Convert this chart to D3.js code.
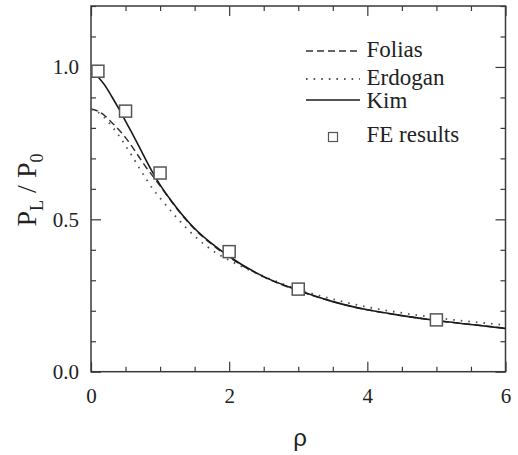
<!DOCTYPE html>
<html>
<head>
<meta charset="utf-8">
<script src="https://cdn.jsdelivr.net/npm/d3@7"></script>
</head>
<body style="margin:0;background:#fff">
<svg id="chart" width="518" height="455" style="display:block"></svg>
<script>
// Data (rho vs P_L / P_0)
const rhoGrid = [0, 0.1, 0.2, 0.3, 0.4, 0.5, 0.6, 0.7, 0.8, 0.9, 1.0, 1.25, 1.5, 1.75, 2.0, 2.5, 3.0, 3.5, 4.0, 4.5, 5.0, 5.5, 6.0];
const foliasValues = [0.862, 0.855, 0.84, 0.818, 0.795, 0.768, 0.737, 0.703, 0.67, 0.64, 0.61, 0.533, 0.468, 0.418, 0.376, 0.311, 0.266, 0.23, 0.203, 0.184, 0.168, 0.155, 0.143];
const erdoganValues = [0.86, 0.852, 0.833, 0.806, 0.776, 0.742, 0.706, 0.668, 0.632, 0.598, 0.57, 0.503, 0.445, 0.399, 0.366, 0.313, 0.27, 0.238, 0.212, 0.193, 0.177, 0.164, 0.153];
const kimRho = [0.1, 0.2, 0.3, 0.4, 0.5, 0.6, 0.7, 0.8, 0.9, 1.0, 1.25, 1.5, 1.75, 2.0, 2.5, 3.0, 3.5, 4.0, 4.5, 5.0, 5.5, 6.0];
const kimValues = [0.968, 0.94, 0.903, 0.864, 0.822, 0.78, 0.737, 0.693, 0.651, 0.613, 0.535, 0.47, 0.42, 0.378, 0.312, 0.267, 0.23, 0.203, 0.184, 0.168, 0.155, 0.142];
const feRho = [0.1, 0.5, 1.0, 2.0, 3.0, 5.0];
const feValues = [0.986, 0.855, 0.652, 0.394, 0.271, 0.170];
const legendNames = ['Folias', 'Erdogan', 'Kim', 'FE results'];
const xTickLabels = [0, 2, 4, 6];
const yTickLabels = [0.0, 0.5, 1.0];

const SERIF = 'Liberation Serif';
const SANS = 'Liberation Sans';

const cfg = {
  width: 518,
  height: 455,
  margin: { top: 6, right: 12.5, bottom: 83.3, left: 91 },
};
const w = cfg.width - cfg.margin.left - cfg.margin.right;
const h = cfg.height - cfg.margin.top - cfg.margin.bottom;

const svg = d3.select('#chart');

const g = svg.append('g')
  .attr('transform', `translate(${cfg.margin.left},${cfg.margin.top})`);

const x = d3.scaleLinear().domain([0, 6]).range([0, w]);
const y = d3.scaleLinear().domain([0, 1.2]).range([h, 0]);

const axisColor = '#3a3a3a';
const minorX = d3.range(0, 6.01, 0.5).filter((v) => v % 2 !== 0);
const minorY = d3.range(0, 1.21, 0.1).map((v) => +v.toFixed(1)).filter((v) => v !== 0 && v !== 0.5 && v !== 1);

function styleAxis(sel) {
  sel.attr('font-family', SERIF).attr('font-size', 21);
  sel.select('.domain').remove();
  sel.selectAll('line').attr('stroke', axisColor).attr('stroke-width', 1.2);
  sel.selectAll('text')
    .style('font-family', SERIF)
    .attr('fill', '#222');
}

// Bottom axis, major + minor, ticks inward
g.append('g')
  .attr('transform', `translate(0,${h})`)
  .call(d3.axisBottom(x).tickValues(xTickLabels).tickSizeInner(-10).tickSizeOuter(0).tickPadding(16).tickFormat(d3.format('d')))
  .call(styleAxis);
g.append('g')
  .attr('transform', `translate(0,${h})`)
  .call(d3.axisBottom(x).tickValues(minorX).tickSizeInner(-5).tickSizeOuter(0).tickFormat(''))
  .call(styleAxis);

// Top axis (ticks only)
g.append('g')
  .call(d3.axisTop(x).tickValues(xTickLabels).tickSizeInner(-10).tickSizeOuter(0).tickFormat(''))
  .call(styleAxis);
g.append('g')
  .call(d3.axisTop(x).tickValues(minorX).tickSizeInner(-5).tickSizeOuter(0).tickFormat(''))
  .call(styleAxis);

// Left axis
g.append('g')
  .call(d3.axisLeft(y).tickValues(yTickLabels).tickSizeInner(-10).tickSizeOuter(0).tickPadding(12).tickFormat(d3.format('.1f')))
  .call(styleAxis);
g.append('g')
  .call(d3.axisLeft(y).tickValues(minorY).tickSizeInner(-5).tickSizeOuter(0).tickFormat(''))
  .call(styleAxis);

// Right axis (ticks only)
g.append('g')
  .attr('transform', `translate(${w},0)`)
  .call(d3.axisRight(y).tickValues(yTickLabels).tickSizeInner(-10).tickSizeOuter(0).tickFormat(''))
  .call(styleAxis);
g.append('g')
  .attr('transform', `translate(${w},0)`)
  .call(d3.axisRight(y).tickValues(minorY).tickSizeInner(-5).tickSizeOuter(0).tickFormat(''))
  .call(styleAxis);

// Frame
g.append('rect')
  .attr('width', w)
  .attr('height', h)
  .attr('fill', 'none')
  .attr('stroke', axisColor)
  .attr('stroke-width', 1.5);

// Curves
const line = d3.line()
  .x((d) => x(d[0]))
  .y((d) => y(d[1]))
  .curve(d3.curveMonotoneX);

const series = [
  { name: 'Folias', pts: d3.zip(rhoGrid, foliasValues), dash: '7 4', color: '#333', width: 1.5 },
  { name: 'Erdogan', pts: d3.zip(rhoGrid, erdoganValues), dash: '1.6 6', color: '#555', width: 1.8 },
  { name: 'Kim', pts: d3.zip(kimRho, kimValues), dash: null, color: '#1a1a1a', width: 1.6 },
];

g.selectAll('path.curve')
  .data(series)
  .enter()
  .append('path')
  .attr('class', 'curve')
  .attr('fill', 'none')
  .attr('stroke', (d) => d.color)
  .attr('stroke-width', (d) => d.width)
  .attr('stroke-dasharray', (d) => d.dash)
  .attr('d', (d) => line(d.pts));

// FE squares
const sq = 12;
g.selectAll('rect.fe')
  .data(d3.zip(feRho, feValues))
  .enter()
  .append('rect')
  .attr('class', 'fe')
  .attr('x', (d) => x(d[0]) - sq / 2)
  .attr('y', (d) => y(d[1]) - sq / 2)
  .attr('width', sq)
  .attr('height', sq)
  .attr('fill', '#fff')
  .attr('stroke', '#555')
  .attr('stroke-width', 1.5);

// Legend
const legendX = 306 - cfg.margin.left;
const lineY = [51, 79, 100, 137];
const textY = [57, 85, 108, 142];
const legend = g.append('g').attr('class', 'legend');
legendNames.forEach((name, i) => {
  const ly = lineY[i] - cfg.margin.top;
  if (i < 3) {
    const s = series[i];
    legend.append('line')
      .attr('x1', legendX).attr('x2', legendX + 54)
      .attr('y1', ly).attr('y2', ly)
      .attr('stroke', s.color)
      .attr('stroke-width', s.width)
      .attr('stroke-dasharray', s.dash);
  } else {
    legend.append('rect')
      .attr('x', legendX + 27 - 4.5).attr('y', ly - 4.5)
      .attr('width', 9).attr('height', 9)
      .attr('fill', '#fff').attr('stroke', '#555').attr('stroke-width', 1.2);
  }
  legend.append('text')
    .attr('x', legendX + 60.5)
    .attr('y', textY[i] - cfg.margin.top)
    .style('font-family', SERIF)
    .attr('font-size', 23)
    .attr('fill', '#222')
    .text(name);
});

// Axis titles
svg.append('text')
  .attr('transform', 'translate(36,190) rotate(-90)')
  .attr('text-anchor', 'middle')
  .style('font-family', SERIF)
  .attr('font-size', 28)
  .attr('fill', '#222')
  .call((t) => {
    t.append('tspan').text('P');
    t.append('tspan').attr('font-size', 18).attr('dy', 7).text('L');
    t.append('tspan').attr('dy', -7).text(' / P');
    t.append('tspan').attr('font-size', 18).attr('dy', 7).text('0');
  });

svg.append('text')
  .attr('x', 300)
  .attr('y', 446)
  .attr('text-anchor', 'middle')
  .style('font-family', SANS)
  .attr('font-size', 24)
  .attr('fill', '#222')
  .text('ρ');
</script>
</body>
</html>
